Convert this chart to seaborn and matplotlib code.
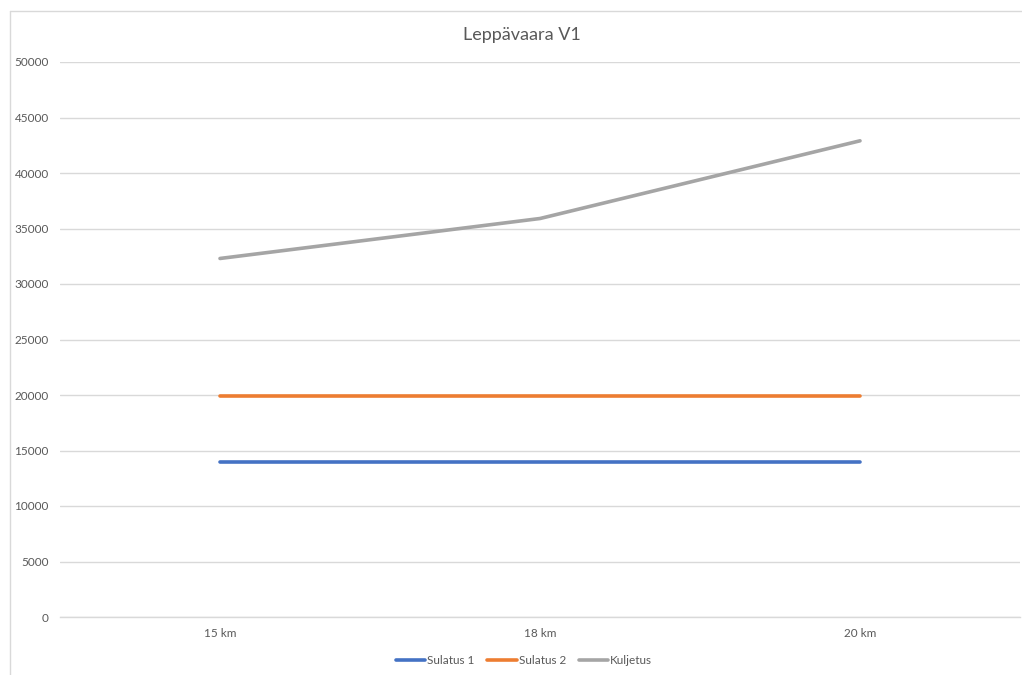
import matplotlib
matplotlib.use("Agg")
import matplotlib.pyplot as plt
import seaborn as sns
import pandas as pd
from matplotlib.lines import Line2D

distances = ["15 km", "18 km", "20 km"]
sulatus_1 = [14000, 14000, 14000]
sulatus_2 = [19900, 19900, 19900]
kuljetus = [32300, 35900, 42900]
series_names = ["Sulatus 1", "Sulatus 2", "Kuljetus"]
y_ticks = list(range(0, 50001, 5000))

df = pd.DataFrame({
    "Etäisyys": distances * 3,
    "Arvo": sulatus_1 + sulatus_2 + kuljetus,
    "Sarja": [series_names[0]] * 3 + [series_names[1]] * 3 + [series_names[2]] * 3,
})

sns.set_theme(style="white")
plt.rcParams["font.family"] = ["Lato", "DejaVu Sans"]

text_color = "#595959"
grid_color = "#d9d9d9"
palette = {"Sulatus 1": "#4472C4", "Sulatus 2": "#ED7D31", "Kuljetus": "#A5A5A5"}

fig = plt.figure(figsize=(10.22, 6.75), dpi=100)
fig.patch.set_facecolor("white")
# chart-area frame: left and top edges
fx, fy = 9.5 / 1022, 1 - 10.5 / 675
fig.add_artist(Line2D([fx, fx], [0, fy], transform=fig.transFigure,
                      color=grid_color, linewidth=1.0))
fig.add_artist(Line2D([fx, 1], [fy, fy], transform=fig.transFigure,
                      color=grid_color, linewidth=1.0))

ax = fig.add_axes([60 / 1022, 1 - 617 / 675, 960 / 1022, (617 - 62) / 675])
sns.lineplot(data=df, x="Etäisyys", y="Arvo", hue="Sarja", palette=palette,
             linewidth=2.6, ax=ax, legend=False, sort=False)

ax.set_xlim(-0.5, 2.5)
ax.set_ylim(0, 50000)
ax.set_yticks(y_ticks)
ax.set_yticklabels([str(t) for t in y_ticks])
ax.yaxis.grid(True, color=grid_color, linewidth=1.0)
ax.set_axisbelow(True)
for side in ["top", "right", "left"]:
    ax.spines[side].set_visible(False)
ax.spines["bottom"].set_color(grid_color)
ax.spines["bottom"].set_linewidth(1.0)
ax.tick_params(axis="both", length=0, labelsize=8.5, colors=text_color)
ax.tick_params(axis="y", pad=8)
ax.tick_params(axis="x", pad=8)
ax.set_xlabel("")
ax.set_ylabel("")

fig.text(522 / 1022, 1 - 35 / 675, "Leppävaara V1", ha="center", va="center",
         fontsize=13, color=text_color)

handles = [Line2D([], [], color=palette[n], linewidth=2.6) for n in series_names]
fig.legend(handles, series_names, loc="center", bbox_to_anchor=(524 / 1022, 1 - 661 / 675),
           ncol=3, frameon=False, fontsize=8.5, labelcolor=text_color,
           handlelength=2.5, handletextpad=0.15, columnspacing=1.1)

fig.savefig("out.png", dpi=100, facecolor="white")
